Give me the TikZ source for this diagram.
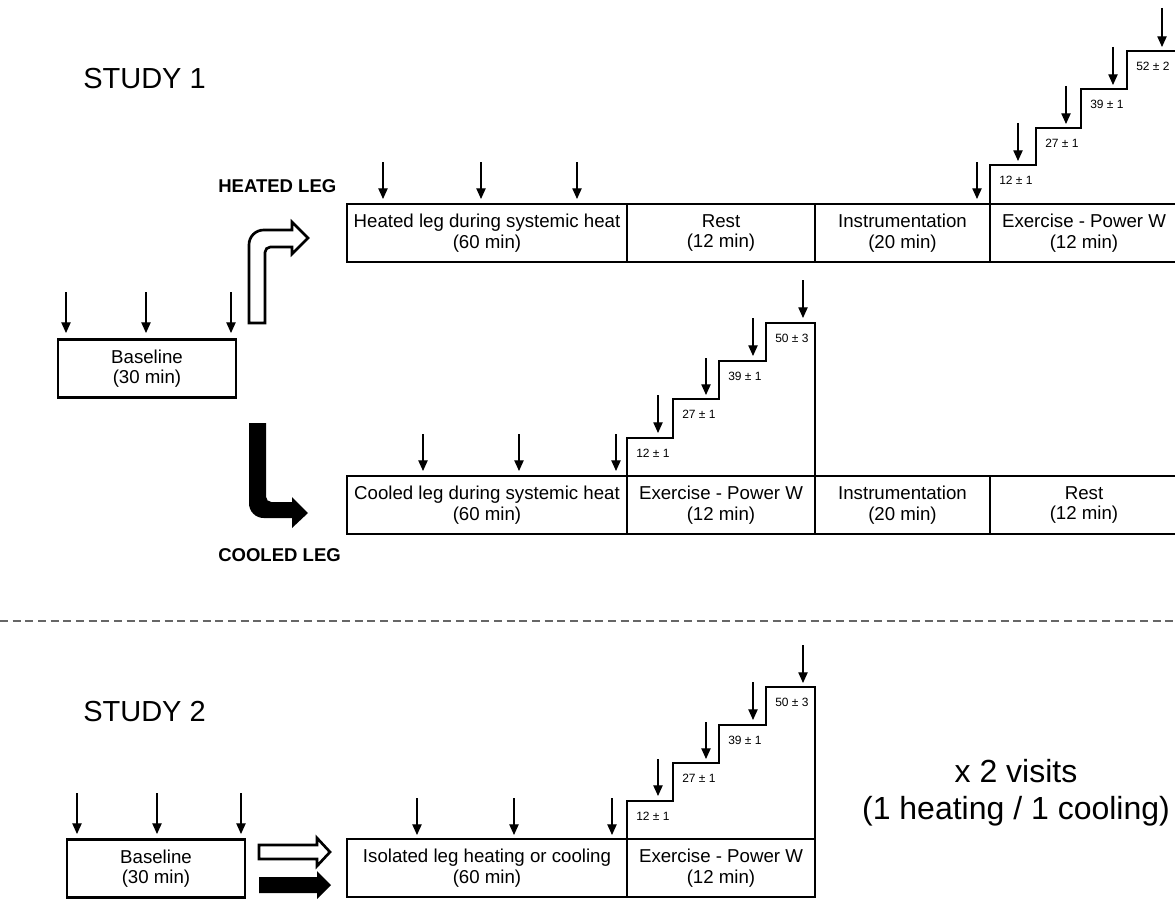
\documentclass[tikz,border=0pt]{standalone}
\usepackage{fontspec}
\setmainfont{Liberation Sans}
\usetikzlibrary{arrows.meta}

\begin{document}
\begin{tikzpicture}[x=0.75pt,y=-0.75pt,
  phase/.style={draw,line width=2pt,minimum height=43.5pt,align=center,
                font=\fontsize{14}{15.5}\selectfont,inner sep=0pt},
  marker/.style={line width=0.9pt,-{Triangle[width=7pt,length=8pt]}},
  stairs/.style={line width=2pt,line join=miter},
  steplabel/.style={anchor=west,font=\fontsize{9}{10}\selectfont,inner sep=0pt},
  title/.style={anchor=west,font=\fontsize{21.75}{24}\selectfont,inner sep=0pt},
  leglabel/.style={anchor=west,font=\bfseries\fontsize{13.9}{15}\selectfont,inner sep=0pt},
  visits/.style={align=center,font=\fontsize{24}{27.5}\selectfont,inner sep=0pt},
  hollowarrow/.style={draw,line width=2pt,fill=white,line join=miter},
  filledarrow/.style={fill=black},
]
\useasboundingbox (0,0) rectangle (1175,899);

% ---- study 1
\node[title] (study1) at (83,79) {STUDY 1};
\node[leglabel] (heatlabel) at (218,186) {HEATED LEG};
\node[leglabel] (coollabel) at (218,555) {COOLED LEG};

\node[phase,minimum width=133.5pt] (base1) at (147,368.5) {Baseline\\(30 min)};
\foreach \x in {66,146,231} \draw[marker] (\x,292) -- (\x,333);

% heated leg row
\node[phase,minimum width=210pt] (heat60) at (487,233) {Heated leg during systemic heat\\(60 min)};
\node[phase,minimum width=141pt] (heatrest) at (721,233) {Rest\\(12 min)};
\node[phase,minimum width=131.25pt] (heatinstr) at (902.5,233) {Instrumentation\\(20 min)};
\node[phase,minimum width=141pt] (heatex) at (1084,233) {Exercise - Power W\\(12 min)};
\foreach \x in {383,481,577,977} \draw[marker] (\x,162) -- (\x,199);
\draw[stairs] (990,204) -- (990,165) -- (1036,165) -- (1036,128) -- (1081,128)
  -- (1081,89) -- (1127,89) -- (1127,51) -- (1178,51);
\draw[marker] (1018,123) -- (1018,161);
\draw[marker] (1066,86) -- (1066,124);
\draw[marker] (1113,47) -- (1113,85);
\draw[marker] (1162,8) -- (1162,47);
\node[steplabel] (h1) at (999,180) {12 ± 1};
\node[steplabel] (h2) at (1045,143) {27 ± 1};
\node[steplabel] (h3) at (1090,104) {39 ± 1};
\node[steplabel] (h4) at (1136,66) {52 ± 2};

% cooled leg row
\node[phase,minimum width=210pt] (cool60) at (487,505) {Cooled leg during systemic heat\\(60 min)};
\node[phase,minimum width=141pt] (coolex) at (721,505) {Exercise - Power W\\(12 min)};
\node[phase,minimum width=131.25pt] (coolinstr) at (902.5,505) {Instrumentation\\(20 min)};
\node[phase,minimum width=141pt] (coolrest) at (1084,505) {Rest\\(12 min)};
\foreach \x in {423,519,616} \draw[marker] (\x,434) -- (\x,471);
\draw[stairs] (627,476) -- (627,438) -- (673,438) -- (673,399) -- (719,399)
  -- (719,361) -- (766,361) -- (766,323) -- (815,323) -- (815,476);
\draw[marker] (658,395) -- (658,433);
\draw[marker] (706,358) -- (706,395);
\draw[marker] (753,318) -- (753,356);
\draw[marker] (803,280) -- (803,318);
\node[steplabel] (c1) at (636,453) {12 ± 1};
\node[steplabel] (c2) at (682,414) {27 ± 1};
\node[steplabel] (c3) at (728,376) {39 ± 1};
\node[steplabel] (c4) at (775,338) {50 ± 3};

% turning arrows
\path[hollowarrow] (249,323) [rounded corners=11pt] -- (249,230) [sharp corners]
  -- (292,230) -- (292,222) -- (308,238) -- (292,254) -- (292,247)
  [rounded corners=4pt] -- (265,247) [sharp corners] -- (265,323) -- cycle;
\path[filledarrow] (249,423) [rounded corners=11pt] -- (249,518) [sharp corners]
  -- (292,518) -- (292,528) -- (308,513) -- (292,497) -- (292,502)
  [rounded corners=4pt] -- (266,502) [sharp corners] -- (266,423) -- cycle;

\draw[line width=0.8pt,black!60,dash pattern=on 6pt off 3.5pt] (0,621) -- (1175,621);

% ---- study 2
\node[title] (study2) at (83,712) {STUDY 2};
\node[phase,minimum width=133.5pt] (base2) at (156,868.5) {Baseline\\(30 min)};
\foreach \x in {77,157,241} \draw[marker] (\x,793) -- (\x,834);

\path[hollowarrow] (259,845) -- (317,845) -- (317,838) -- (330,852) -- (317,866)
  -- (317,859) -- (259,859) -- cycle;
\path[filledarrow] (259,877) -- (317,877) -- (317,871) -- (331,885) -- (317,899)
  -- (317,893) -- (259,893) -- cycle;

\node[phase,minimum width=210pt] (iso60) at (487,868) {Isolated leg heating or cooling\\(60 min)};
\node[phase,minimum width=141pt] (isoex) at (721,868) {Exercise - Power W\\(12 min)};
\foreach \x in {417,514,612} \draw[marker] (\x,798) -- (\x,835);
\draw[stairs] (627,839) -- (627,801) -- (673,801) -- (673,763) -- (719,763)
  -- (719,725) -- (766,725) -- (766,687) -- (815,687) -- (815,839);
\draw[marker] (658,759) -- (658,796);
\draw[marker] (706,722) -- (706,759);
\draw[marker] (753,682) -- (753,720);
\draw[marker] (803,645) -- (803,683);
\node[steplabel] (s1) at (636,816) {12 ± 1};
\node[steplabel] (s2) at (682,778) {27 ± 1};
\node[steplabel] (s3) at (728,740) {39 ± 1};
\node[steplabel] (s4) at (775,702) {50 ± 3};

\node[visits] (visits) at (1016,793) {x 2 visits\\(1 heating / 1 cooling)};
\end{tikzpicture}
\end{document}
